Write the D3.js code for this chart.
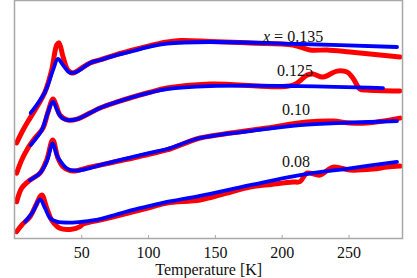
<!DOCTYPE html>
<html>
<head>
<meta charset="utf-8">
<script src="https://cdn.jsdelivr.net/npm/d3@7"></script>
<style>
  html, body { margin: 0; padding: 0; background: #fff; }
  svg { display: block; }
</style>
</head>
<body>
<svg id="chart" width="417" height="278" font-family="'Liberation Serif', 'Times New Roman', Times, 'DejaVu Serif', serif"></svg>
<script>
// ---- data (temperature in K, signal in arbitrary units, curves offset vertically) ----
const xTicks = [50, 100, 150, 200, 250];
const xLabel = "Temperature [K]";
const curveLabels = ["x = 0.135", "0.125", "0.10", "0.08"];

const redT135 = [1.3, 6.1, 11.3, 17.3, 22.5, 27.5, 31.3, 33.0, 36.0, 39.7, 43.5, 48.7, 56.2, 63.7, 76, 88.4, 101, 113.8, 124, 146, 176, 208, 220.8, 233.5, 250.7, 288.1];
const redV135 = [4.82, 5.47, 6.07, 6.73, 7.38, 8.48, 9.74, 9.85, 9.15, 8.48, 8.33, 8.53, 8.84, 8.99, 9.26, 9.49, 9.71, 9.89, 9.97, 9.92, 9.84, 9.74, 9.49, 9.49, 9.39, 9.14];
const blueT135 = [11.8, 22.5, 28.5, 32.2, 36.0, 41.2, 46.5, 56.2, 63.7, 76, 88.4, 101, 113.8, 146, 213.3, 285.9];
const blueV135 = [6.33, 7.38, 8.48, 9.04, 8.73, 8.35, 8.40, 8.84, 8.99, 9.23, 9.44, 9.66, 9.81, 9.89, 9.79, 9.64];

const redT125 = [1.3, 5.1, 9.8, 15.0, 21.0, 24.8, 28.5, 30.8, 33.7, 39.7, 46.5, 63.7, 76, 88.4, 101, 113.8, 146, 208, 218.5, 223, 230.5, 241, 248.5, 252.9, 258.2, 263.4, 288.1];
const redV125 = [3.31, 3.97, 4.57, 5.07, 5.57, 6.38, 7.03, 6.73, 6.22, 5.97, 6.02, 6.58, 6.87, 7.13, 7.37, 7.58, 7.78, 7.73, 8.23, 8.28, 8.13, 8.43, 8.38, 8.08, 7.53, 7.48, 7.43];
const blueT125 = [11.8, 20.1, 24.0, 28.5, 31.5, 35.2, 39.7, 46.5, 63.7, 76, 88.4, 101, 113.8, 146, 213.3, 275.4];
const blueV125 = [4.72, 5.47, 6.22, 6.89, 6.48, 6.07, 5.97, 6.02, 6.58, 6.87, 7.13, 7.35, 7.53, 7.68, 7.68, 7.58];

const redT10 = [1.3, 5.1, 11.3, 18.8, 23.8, 28.3, 32.2, 36.0, 41.2, 46.2, 56.2, 63.7, 76, 88.4, 101, 113.8, 138.5, 163, 188.6, 218.5, 238, 250.7, 263.4, 288.1];
const redV10 = [1.87, 2.56, 2.96, 3.31, 3.97, 4.97, 4.07, 3.63, 3.43, 3.43, 3.61, 3.71, 3.89, 4.07, 4.27, 4.47, 5.07, 5.33, 5.57, 5.87, 5.92, 5.82, 5.82, 6.07];
const blueT10 = [11.3, 18.8, 23.8, 28.3, 31.3, 35.0, 39.7, 46.2, 56.2, 63.7, 76, 88.4, 101, 113.8, 138.5, 176, 213.3, 250, 285.9];
const blueV10 = [2.96, 3.31, 3.88, 4.80, 4.22, 3.82, 3.51, 3.43, 3.56, 3.71, 3.92, 4.12, 4.32, 4.52, 5.07, 5.42, 5.72, 5.84, 5.92];

const redT08 = [1.3, 5.1, 11.3, 15.8, 20.1, 23.8, 27.5, 33.7, 42.5, 48.7, 51.0, 63.7, 76, 88.4, 101, 113.8, 138.5, 157, 175.9, 192, 208, 213.3, 218.5, 228.3, 238, 250.7, 267.9, 278.4, 288.1];
const redV08 = [0.37, 0.70, 1.12, 1.71, 2.21, 1.56, 0.95, 0.54, 0.49, 0.62, 0.75, 0.95, 1.15, 1.36, 1.58, 1.81, 1.96, 2.28, 2.61, 2.74, 2.86, 2.88, 3.31, 3.21, 3.61, 3.46, 3.51, 3.61, 3.66];
const blueT08 = [7.6, 13.5, 18.8, 22.5, 26.3, 31.3, 41.2, 51.0, 63.7, 76, 88.4, 101, 113.8, 138.5, 176, 213.3, 250.7, 285.9];
const blueV08 = [0.87, 1.37, 1.99, 1.56, 1.05, 0.87, 0.82, 0.87, 1.00, 1.23, 1.46, 1.66, 1.86, 2.16, 2.70, 3.21, 3.55, 3.87];

// ---- layout ----
const svg = d3.select("#chart");
const mLeft = 14.9, mRight = 402.5, mTop = 0.5, mBottom = 239;
const x = d3.scaleLinear().domain([0, 290]).range([mLeft, mRight]);
const y = d3.scaleLinear().domain([0, 12]).range([mBottom, 0]);

const zip = (ts, vs) => ts.map((t, i) => [t, vs[i]]);
const line = d3.line().x(d => x(d[0])).y(d => y(d[1])).curve(d3.curveCatmullRom.alpha(0.5));

const redSets = [zip(redT135, redV135), zip(redT125, redV125), zip(redT10, redV10), zip(redT08, redV08)];
const blueSets = [zip(blueT135, blueV135), zip(blueT125, blueV125), zip(blueT10, blueV10), zip(blueT08, blueV08)];

const g = svg.append("g");
g.selectAll("path.red").data(redSets).enter().append("path")
  .attr("class", "red")
  .attr("d", line)
  .attr("fill", "none")
  .attr("stroke", "#ff0000")
  .attr("stroke-width", 5)
  .attr("stroke-linecap", "round")
  .attr("stroke-linejoin", "round");

g.selectAll("path.blue").data(blueSets).enter().append("path")
  .attr("class", "blue")
  .attr("d", line)
  .attr("fill", "none")
  .attr("stroke", "#0000ff")
  .attr("stroke-width", 3.8)
  .attr("stroke-linecap", "round")
  .attr("stroke-linejoin", "round");

// frame
svg.append("rect")
  .attr("x", mLeft - 0.4).attr("y", mTop)
  .attr("width", mRight - mLeft + 0.4).attr("height", mBottom - mTop - 0.5)
  .attr("fill", "none").attr("stroke", "#a8a8a8").attr("stroke-width", 1.5);

// x axis ticks (inward) and labels
const axis = svg.append("g");
axis.selectAll("line.tick").data(xTicks).enter().append("line")
  .attr("x1", d => x(d)).attr("x2", d => x(d))
  .attr("y1", mBottom - 0.5).attr("y2", mBottom - 4)
  .attr("stroke", "#a8a8a8").attr("stroke-width", 1);
axis.selectAll("text.tick").data(xTicks).enter().append("text")
  .attr("x", d => x(d)).attr("y", 257.5)
  .attr("text-anchor", "middle")
  .attr("font-size", 16)
  .attr("fill", "#111")
  .text(d => d);

svg.append("text")
  .attr("x", (mLeft + mRight) / 2).attr("y", 275)
  .attr("text-anchor", "middle")
  .attr("font-size", 16)
  .attr("fill", "#111")
  .text(xLabel);

// curve labels
const labelPos = [[263, 41.5], [277, 76], [282, 115], [282, 167]];
curveLabels.forEach((lab, i) => {
  const t = svg.append("text")
    .attr("x", labelPos[i][0]).attr("y", labelPos[i][1])
    .attr("font-size", 16)
    .attr("fill", "#111");
  if (lab.startsWith("x")) {
    t.append("tspan").attr("font-style", "italic").text("x");
    t.append("tspan").text(lab.slice(1));
  } else {
    t.text(lab);
  }
});
</script>
</body>
</html>
